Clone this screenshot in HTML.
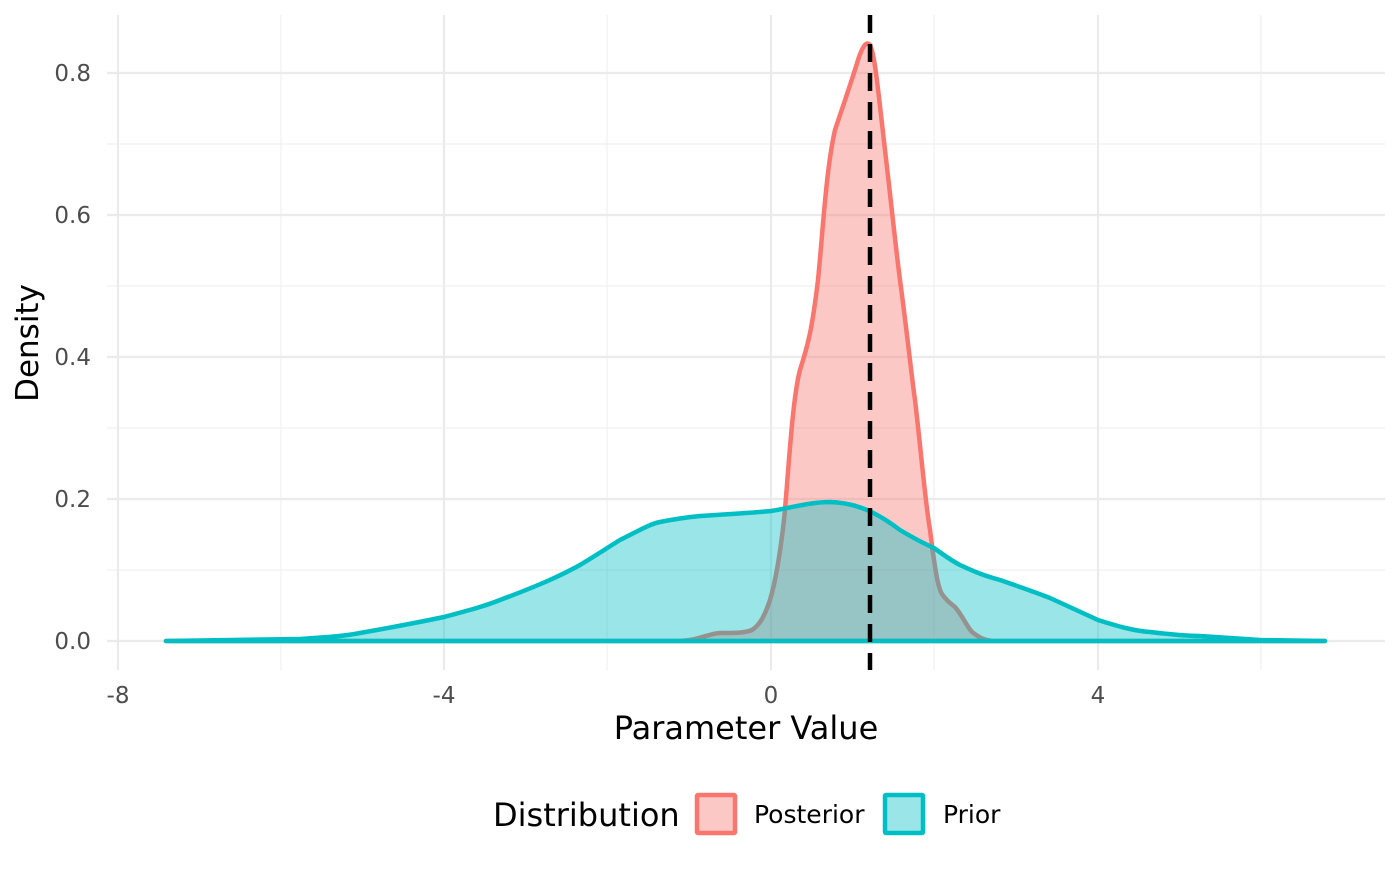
<!DOCTYPE html>
<html><head><style>body{margin:0;background:#fff}</style></head><body>
<svg width="1400" height="866" xmlns="http://www.w3.org/2000/svg" font-family="DejaVu Sans, Liberation Sans, sans-serif">
<g stroke="#f0f0f0" stroke-width="1.2">
<line x1="281" y1="15" x2="281" y2="670"/><line x1="607" y1="15" x2="607" y2="670"/><line x1="934" y1="15" x2="934" y2="670"/><line x1="1261" y1="15" x2="1261" y2="670"/>
<line x1="107" y1="570" x2="1385" y2="570"/><line x1="107" y1="428" x2="1385" y2="428"/><line x1="107" y1="286" x2="1385" y2="286"/><line x1="107" y1="144" x2="1385" y2="144"/>
</g>
<g stroke="#ebebeb" stroke-width="2.2">
<line x1="118" y1="15" x2="118" y2="670"/><line x1="444" y1="15" x2="444" y2="670"/><line x1="771" y1="15" x2="771" y2="670"/><line x1="1098" y1="15" x2="1098" y2="670"/>
<line x1="107" y1="641" x2="1385" y2="641"/><line x1="107" y1="499" x2="1385" y2="499"/><line x1="107" y1="357" x2="1385" y2="357"/><line x1="107" y1="215" x2="1385" y2="215"/><line x1="107" y1="73" x2="1385" y2="73"/>
</g>
<path d="M166,641 L680,641 C700,640 710,633 720,633 C735,633 745,633 752,630 C760,625 765,615 770,600 C776,580 780,555 784,520 C788,480 792,400 800,370 C808,345 812,330 818,280 C823,230 826,170 835,130 C845,100 852,80 858,60 C862,48 866,40 870,45 C875,55 878,90 885,150 C892,210 896,250 900,280 C908,340 912,380 915,400 C922,460 925,500 930,530 C935,570 938,588 942,594 C946,600 950,603 955,607 C962,615 966,625 972,632 C980,638 985,641 995,641 L1325,641 Z" fill="#f8766d" fill-opacity="0.4" stroke="#f8766d" stroke-width="4.5" stroke-linejoin="round"/>
<path d="M166,641 L300,639 C330,637 345,636 360,633 C400,626 420,622 444,617 C470,610 485,606 500,600 C540,585 560,576 580,565 C600,553 610,546 620,540 C640,530 650,524 660,522 C680,518 690,517 700,516 C730,514 750,513 771,511 C790,508 810,502 830,502 C860,503 880,515 900,530 C915,539 925,544 934,548 C945,556 952,561 960,565 C975,572 985,576 1000,580 C1020,587 1035,592 1050,598 C1070,607 1085,614 1098,620 C1120,627 1135,631 1150,632 C1175,635 1190,636 1200,636 C1230,638 1245,639 1260,640 L1325,641 Z" fill="#00bfc4" fill-opacity="0.4" stroke="#00bfc4" stroke-width="4.5" stroke-linejoin="round"/>
<line x1="870" y1="15" x2="870" y2="670" stroke="#000" stroke-width="4.5" stroke-dasharray="18,11"/>
<g fill="#4d4d4d" font-size="23" text-anchor="end">
<text x="91" y="649">0.0</text><text x="91" y="507">0.2</text><text x="91" y="365">0.4</text><text x="91" y="223">0.6</text><text x="91" y="81">0.8</text>
</g>
<g fill="#4d4d4d" font-size="23" text-anchor="middle">
<text x="118" y="703">-8</text><text x="444" y="703">-4</text><text x="771" y="703">0</text><text x="1098" y="703">4</text>
</g>
<text x="746" y="739" font-size="32" text-anchor="middle" fill="#000">Parameter Value</text>
<text transform="translate(38,343) rotate(-90)" font-size="31" text-anchor="middle" fill="#000">Density</text>
<text x="493" y="826" font-size="32" fill="#000">Distribution</text>
<rect x="697" y="795" width="38" height="38" fill="#f8766d" fill-opacity="0.4" stroke="#f8766d" stroke-width="4.5" rx="1"/>
<text x="754" y="823" font-size="25" fill="#000">Posterior</text>
<rect x="885" y="795" width="38" height="38" fill="#00bfc4" fill-opacity="0.4" stroke="#00bfc4" stroke-width="4.5" rx="1"/>
<text x="943" y="823" font-size="25" fill="#000">Prior</text>
</svg>
</body></html>
